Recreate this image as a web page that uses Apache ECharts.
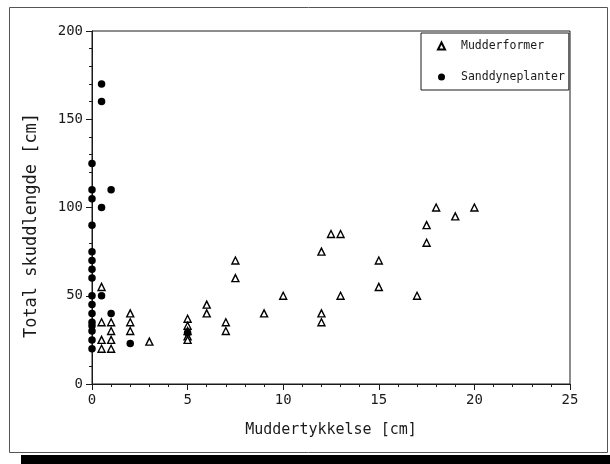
<!DOCTYPE html>
<html>
<head>
<meta charset="utf-8">
<script src="https://cdn.jsdelivr.net/npm/echarts@6/dist/echarts.min.js"></script>
<style>
  html, body { margin: 0; padding: 0; background: #fff; }
  #chart { width: 610px; height: 464px; }
</style>
</head>
<body>
<div id="chart"></div>
<script>
// Mudderformer (open triangles)
const mudX = [0.5, 0.5, 0.5, 0.5, 1, 1, 1, 1, 2, 2, 2, 3,
  5, 5, 5, 5, 5, 6, 6, 7, 7, 7.5, 7.5, 9, 10,
  12, 12, 12, 12.5, 13, 13, 15, 15, 17, 17.5, 17.5, 18, 19, 20]
const mudY = [55, 35, 25, 20, 35, 30, 25, 20, 40, 35, 30, 24,
  37, 33, 30, 27, 25, 45, 40, 35, 30, 70, 60, 40, 50,
  75, 40, 35, 85, 85, 50, 70, 55, 50, 90, 80, 100, 95, 100]

// Sanddyneplanter (filled dots)
const sandX = [0, 0, 0, 0, 0, 0, 0, 0, 0, 0, 0, 0, 0, 0, 0, 0,
  0.5, 0.5, 0.5, 0.5, 1, 1, 2, 5]
const sandY = [20, 25, 30, 33, 35, 40, 45, 50, 60, 65, 70, 75, 90, 105, 110, 125,
  170, 160, 100, 50, 110, 40, 23, 29]

const seriesNames = ['Mudderformer', 'Sanddyneplanter']
const xTitle = 'Muddertykkelse [cm]'
const yTitle = 'Total skuddlengde [cm]'

const zip = (xs, ys) => xs.map((x, i) => [x, ys[i]])
const font = 'DejaVu Sans Mono'
const ink = '#1a1a1a'

const chart = echarts.init(document.getElementById('chart'), null, { renderer: 'canvas' })
chart.setOption({
  animation: false,
  backgroundColor: '#fff',
  grid: {
    left: 92, right: 40, top: 31, bottom: 80,
    show: true, borderColor: ink, borderWidth: 1, backgroundColor: 'transparent'
  },
  graphic: [
    // outer frame of the figure and dark strip under it
    { type: 'rect', shape: { x: 9.5, y: 7.5, width: 598, height: 445 },
      style: { fill: 'none', stroke: '#555', lineWidth: 1 }, silent: true },
    { type: 'rect', shape: { x: 21, y: 455, width: 589, height: 9 },
      style: { fill: '#000' }, silent: true }
  ],
  legend: {
    orient: 'vertical',
    left: 421, top: 33,
    padding: [6, 4, 6, 16],
    itemGap: 17,
    itemWidth: 7, itemHeight: 7,
    borderColor: ink, borderWidth: 1,
    backgroundColor: '#fff',
    data: seriesNames,
    textStyle: { fontFamily: font, fontSize: 11.5, color: ink, lineHeight: 14, padding: [0, 0, 0, 11] }
  },
  xAxis: {
    type: 'value',
    min: 0, max: 25, interval: 5,
    name: xTitle,
    nameLocation: 'middle',
    nameGap: 39,
    nameTextStyle: { fontFamily: font, fontSize: 15, color: ink },
    axisLine: { show: true, onZero: false, lineStyle: { color: ink, width: 1 } },
    axisTick: { show: true, length: 6, lineStyle: { color: ink } },
    minorTick: { show: true, splitNumber: 5, length: 3, lineStyle: { color: ink } },
    splitLine: { show: false },
    axisLabel: { fontFamily: font, fontSize: 14, color: ink, margin: 9 }
  },
  yAxis: {
    type: 'value',
    min: 0, max: 200, interval: 50,
    name: yTitle,
    nameLocation: 'middle',
    nameGap: 52,
    nameTextStyle: { fontFamily: font, fontSize: 17, color: ink, padding: [0, 36, 0, 0] },
    axisLine: { show: true, onZero: false, lineStyle: { color: ink, width: 1 } },
    axisTick: { show: true, length: 6, lineStyle: { color: ink } },
    minorTick: { show: true, splitNumber: 5, length: 3, lineStyle: { color: ink } },
    splitLine: { show: false },
    axisLabel: { fontFamily: font, fontSize: 14, color: ink, margin: 9 }
  },
  series: [
    {
      name: seriesNames[0],
      type: 'scatter',
      symbol: 'triangle',
      symbolSize: 7,
      data: zip(mudX, mudY),
      itemStyle: { color: '#fff', borderColor: '#000', borderWidth: 1.4, opacity: 1 },
      emphasis: { disabled: true }
    },
    {
      name: seriesNames[1],
      type: 'scatter',
      symbol: 'circle',
      symbolSize: 7.5,
      data: zip(sandX, sandY),
      itemStyle: { color: '#000', opacity: 1 },
      emphasis: { disabled: true }
    }
  ]
})
</script>
</body>
</html>
